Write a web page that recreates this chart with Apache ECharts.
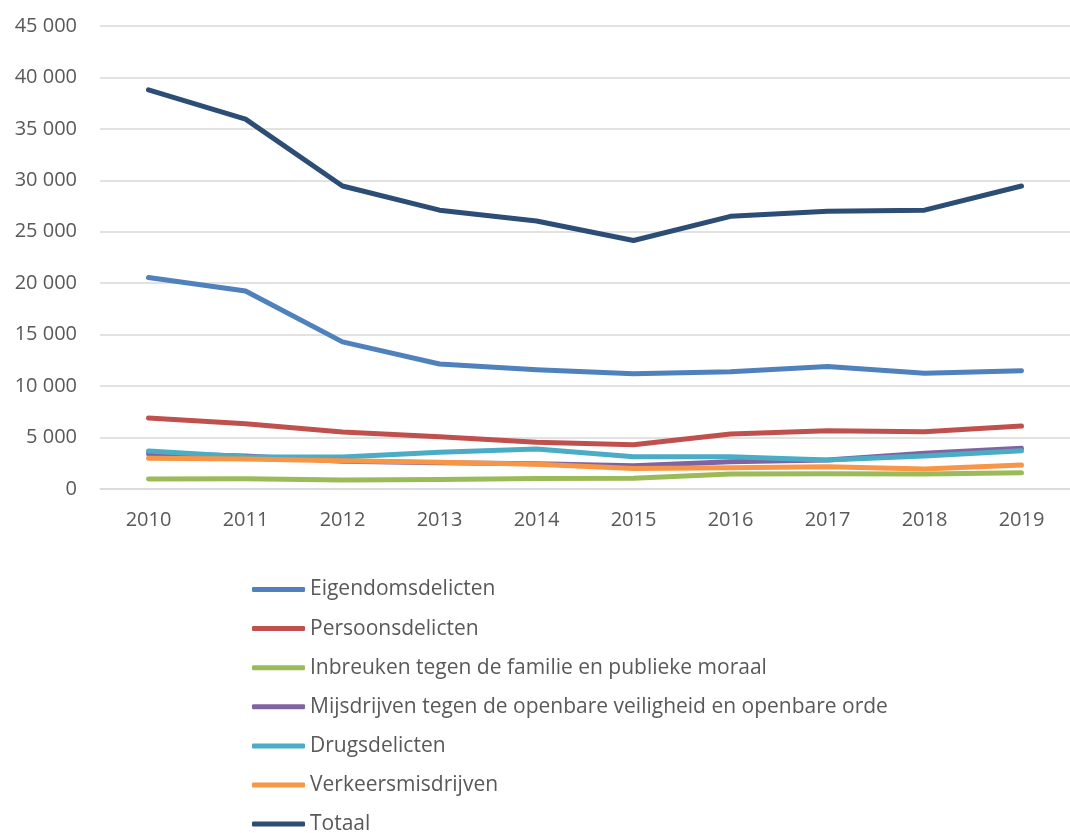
<!DOCTYPE html>
<html><head><meta charset="utf-8">
<script src="https://cdn.jsdelivr.net/npm/echarts@6/dist/echarts.min.js"></script>
<style>html,body{margin:0;padding:0;background:#fff}#c{width:1070px;height:833px}</style>
</head><body><div id="c"></div>
<script>
const years = ['2010','2011','2012','2013','2014','2015','2016','2017','2018','2019'];
const eigendomsdelicten = [20550, 19250, 14300, 12150, 11600, 11200, 11400, 11900, 11250, 11500];
const persoonsdelicten = [6900, 6350, 5550, 5080, 4540, 4300, 5350, 5670, 5570, 6120];
const inbreuken = [980, 1000, 880, 920, 1020, 1050, 1450, 1480, 1460, 1580];
const mijsdrijven = [3450, 3200, 2700, 2550, 2450, 2250, 2650, 2820, 3470, 3950];
const drugsdelicten = [3700, 3140, 3120, 3570, 3880, 3140, 3130, 2820, 3200, 3720];
const verkeersmisdrijven = [2980, 2920, 2750, 2590, 2400, 2000, 2070, 2170, 1940, 2330];
const totaal = [38800, 35950, 29450, 27100, 26050, 24150, 26500, 27000, 27100, 29450];
const yTicks = [0, 5000, 10000, 15000, 20000, 25000, 30000, 35000, 40000, 45000];

const seriesDefs = [
  ['Eigendomsdelicten', eigendomsdelicten, '#4F81BD'],
  ['Persoonsdelicten', persoonsdelicten, '#C0504D'],
  ['Inbreuken tegen de familie en publieke moraal', inbreuken, '#9BBB59'],
  ['Mijsdrijven tegen de openbare veiligheid en openbare orde', mijsdrijven, '#8064A2'],
  ['Drugsdelicten', drugsdelicten, '#4BACC6'],
  ['Verkeersmisdrijven', verkeersmisdrijven, '#F79646'],
  ['Totaal', totaal, '#2C4D75']
];
const font = 'Open Sans';
const chart = echarts.init(document.getElementById('c'), null, {renderer:'canvas'});
chart.setOption({
  animation: false,
  textStyle: {fontFamily: font},
  grid: {left: 100, right: -17, top: 26, bottom: 344, containLabel: false},
  xAxis: {
    type: 'category', data: years, boundaryGap: true,
    axisLine: {lineStyle: {color: '#d9d9d9', width: 1.5}},
    axisTick: {show: false},
    axisLabel: {color: '#595959', fontSize: 20, fontFamily: font, margin: 21}
  },
  yAxis: {
    type: 'value', min: yTicks[0], max: yTicks[yTicks.length-1], interval: 5000,
    axisLine: {show: false}, axisTick: {show: false},
    splitLine: {lineStyle: {color: '#d9d9d9', width: 1.5}},
    axisLabel: {color: '#595959', fontSize: 20, fontFamily: font, margin: 23,
      formatter: v => String(v).replace(/\B(?=(\d{3})+(?!\d))/g, ' ')}
  },
  legend: {
    orient: 'vertical', left: 247, top: 574, height: 320, padding: 5,
    icon: 'roundRect', itemWidth: 53, itemHeight: 5, itemGap: 18.1,
    textStyle: {color: '#595959', fontSize: 21, fontFamily: font, lineHeight: 20},
    data: seriesDefs.map(s => s[0])
  },
  series: seriesDefs.map(([name, data, color]) => ({
    name, type: 'line', data, symbol: 'none', smooth: false,
    lineStyle: {color, width: 5, cap: 'round', join: 'round'},
    itemStyle: {color}
  }))
});
</script></body></html>
